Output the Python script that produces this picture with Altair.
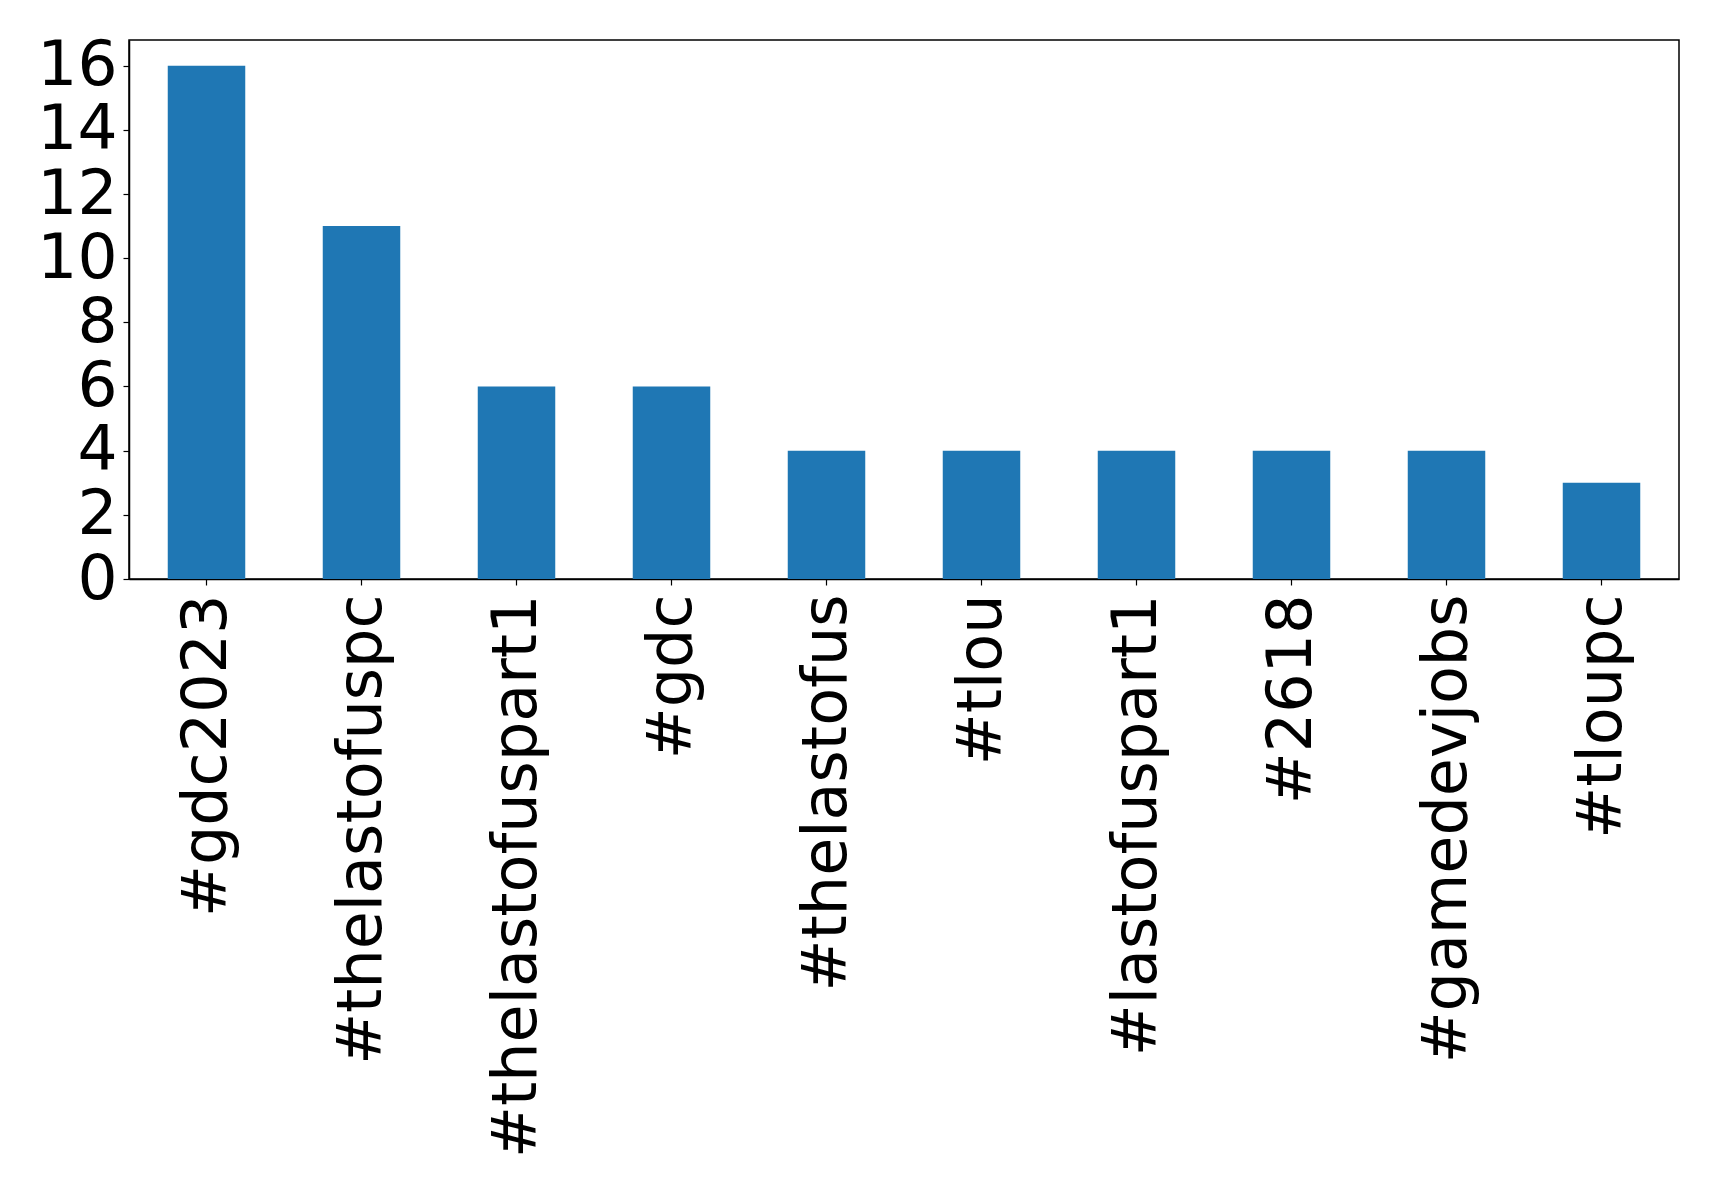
import altair as alt
import pandas as pd

tags = ["#gdc2023", "#thelastofuspc", "#thelastofuspart1", "#gdc", "#thelastofus",
        "#tlou", "#lastofuspart1", "#2618", "#gamedevjobs", "#tloupc"]
counts = [16, 11, 6, 6, 4, 4, 4, 4, 4, 3]
y_ticks = [0, 2, 4, 6, 8, 10, 12, 14, 16]

df = pd.DataFrame({"tag": tags, "count": counts})

chart = alt.Chart(df).mark_bar(color="#1f77b4").encode(
    x=alt.X("tag:N", sort=tags, title=None,
            scale=alt.Scale(paddingInner=0.5, paddingOuter=0.25),
            axis=alt.Axis(labelAngle=-90, labelAlign="right", labelBaseline="middle",
                          labelFontSize=62, labelFont="DejaVu Sans", labelColor="black",
                          tickSize=6, tickColor="black", tickWidth=1.2,
                          domainColor="black", domainWidth=1.5, labelPadding=9,
                          labelLimit=0, grid=False)),
    y=alt.Y("count:Q", title=None,
            scale=alt.Scale(domain=[0, 16.8], nice=False, zero=True),
            axis=alt.Axis(values=y_ticks, labelFontSize=63, labelFont="DejaVu Sans",
                          labelColor="black", tickSize=6, tickColor="black", tickWidth=1.2,
                          domainColor="black", domainWidth=1.5, labelPadding=6,
                          grid=False, labelBaseline="middle", labelOverlap=False)),
).properties(
    width=1550, height=539,
    autosize=alt.AutoSizeParams(type="none"),
    padding={"left": 121, "top": 32, "right": 30, "bottom": 600},
).configure(background="white").configure_view(stroke="black", strokeWidth=1.5)

chart.save("out.html", embed_options={"renderer": "svg", "actions": False})
